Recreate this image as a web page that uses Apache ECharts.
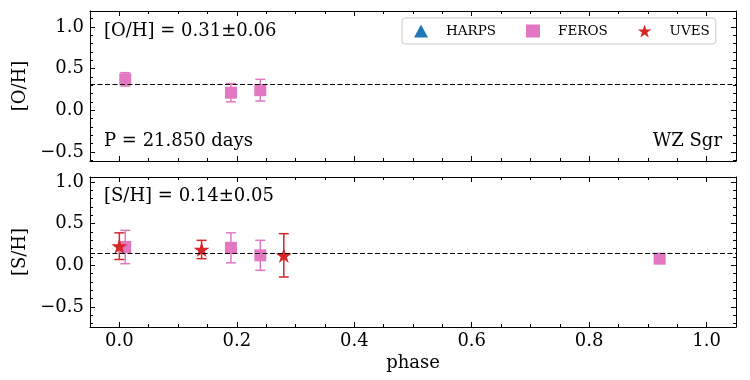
<!DOCTYPE html>
<html lang="en">
<head>
    <meta charset="UTF-8">
    <title>WZ Sgr abundances</title>
    <script src="https://cdn.jsdelivr.net/npm/echarts@6/dist/echarts.min.js"></script>
    <style>
        html, body { margin: 0; padding: 0; background: #fff; }
        #chart { width: 750px; height: 380px; }
    </style>
</head>
<body>
<div id="chart"></div>
<script>
    // --- data ---
    var ohFerosPhase = [0.01, 0.19, 0.24];
    var ohFerosVal   = [0.37, 0.21, 0.24];
    var ohFerosErr   = [0.08, 0.11, 0.13];

    var shFerosPhase = [0.01, 0.19, 0.24, 0.92];
    var shFerosVal   = [0.22, 0.21, 0.12, 0.08];
    var shFerosErr   = [0.20, 0.18, 0.18, 0.04];

    var shUvesPhase = [0.00, 0.14, 0.28];
    var shUvesVal   = [0.23, 0.19, 0.12];
    var shUvesErr   = [0.16, 0.11, 0.26];

    var meanOH = 0.31;
    var meanSH = 0.14;

    // ticks
    var xMajor = [0, 0.2, 0.4, 0.6, 0.8, 1.0];
    var xMinor = [-0.05, 0.05, 0.1, 0.15, 0.25, 0.3, 0.35, 0.45, 0.5, 0.55, 0.65, 0.7, 0.75, 0.85, 0.9, 0.95, 1.05];
    var yMajor = [-0.5, 0, 0.5, 1.0];
    var yMinorTop = [-0.6, -0.4, -0.3, -0.2, -0.1, 0.1, 0.2, 0.3, 0.4, 0.6, 0.7, 0.8, 0.9, 1.1];
    var yMinorBot = [-0.7, -0.6, -0.4, -0.3, -0.2, -0.1, 0.1, 0.2, 0.3, 0.4, 0.6, 0.7, 0.8, 0.9];

    var FONT = 'DejaVu Serif';
    var C_HARPS = '#1f77b4', C_FEROS = '#e377c2', C_UVES = '#d62728';
    var STAR = 'path://M0,-100L22.45,-30.9L95.11,-30.9L36.33,11.8L58.78,80.9L0,38.2L-58.78,80.9L-36.33,11.8L-95.11,-30.9L-22.45,-30.9Z';

    function pts(xs, ys) {
        return xs.map(function (x, i) { return [x, ys[i]]; });
    }
    function bars(xs, ys, es) {
        return xs.map(function (x, i) { return [x, ys[i] - es[i], ys[i] + es[i]]; });
    }
    function fmt(v) {
        return v.toFixed(1).replace('-', '\u2212');
    }

    function renderErr(params, api) {
        var x = api.value(0);
        var lo = api.coord([x, api.value(1)]);
        var hi = api.coord([x, api.value(2)]);
        var c = 5;
        var st = { stroke: api.visual('color'), lineWidth: 1.5 };
        return {
            type: 'group',
            children: [
                { type: 'line', shape: { x1: lo[0], y1: lo[1], x2: hi[0], y2: hi[1] }, style: st },
                { type: 'line', shape: { x1: lo[0] - c, y1: lo[1], x2: lo[0] + c, y2: lo[1] }, style: st },
                { type: 'line', shape: { x1: hi[0] - c, y1: hi[1], x2: hi[0] + c, y2: hi[1] }, style: st }
            ]
        };
    }

    var LINE = { show: true, onZero: false, lineStyle: { color: '#000', width: 1 } };
    var NOLINE = { show: false, onZero: false };

    // one set of 4 x axes (bottom/top, major/minor) per grid
    function xAxes(grid, labels) {
        var base = { gridIndex: grid, type: 'value', min: -0.05, max: 1.05, splitLine: { show: false } };
        return [
            Object.assign({}, base, {
                position: 'bottom', axisLine: LINE,
                axisTick: { show: true, inside: true, length: 5, customValues: xMajor, lineStyle: { color: '#000' } },
                axisLabel: { show: labels, customValues: xMajor, formatter: fmt, margin: 5,
                    fontFamily: FONT, fontSize: 18, color: '#000' },
                name: labels ? 'phase' : '', nameLocation: 'middle', nameGap: 27,
                nameTextStyle: { fontFamily: FONT, fontSize: 18, color: '#000' }
            }),
            Object.assign({}, base, {
                position: 'bottom', axisLine: NOLINE,
                axisTick: { show: true, inside: true, length: 3, customValues: xMinor, lineStyle: { color: '#000' } },
                axisLabel: { show: false }
            }),
            Object.assign({}, base, {
                position: 'top', axisLine: LINE,
                axisTick: { show: true, inside: true, length: 5, customValues: xMajor, lineStyle: { color: '#000' } },
                axisLabel: { show: false }
            }),
            Object.assign({}, base, {
                position: 'top', axisLine: NOLINE,
                axisTick: { show: true, inside: true, length: 3, customValues: xMinor, lineStyle: { color: '#000' } },
                axisLabel: { show: false }
            })
        ];
    }

    function yAxes(grid, min, max, minor, name) {
        var base = { gridIndex: grid, type: 'value', min: min, max: max, splitLine: { show: false } };
        return [
            Object.assign({}, base, {
                position: 'left', axisLine: LINE,
                axisTick: { show: true, inside: true, length: 5, customValues: yMajor, lineStyle: { color: '#000' } },
                axisLabel: { show: true, customValues: yMajor, formatter: fmt, margin: 6,
                    fontFamily: FONT, fontSize: 18, color: '#000' },
                name: name, nameLocation: 'middle', nameGap: 58,
                nameTextStyle: { fontFamily: FONT, fontSize: 18, color: '#000' }
            }),
            Object.assign({}, base, {
                position: 'left', axisLine: NOLINE,
                axisTick: { show: true, inside: true, length: 3, customValues: minor, lineStyle: { color: '#000' } },
                axisLabel: { show: false }
            }),
            Object.assign({}, base, {
                position: 'right', axisLine: LINE,
                axisTick: { show: true, inside: true, length: 5, customValues: yMajor, lineStyle: { color: '#000' } },
                axisLabel: { show: false }
            }),
            Object.assign({}, base, {
                position: 'right', axisLine: NOLINE,
                axisTick: { show: true, inside: true, length: 3, customValues: minor, lineStyle: { color: '#000' } },
                axisLabel: { show: false }
            })
        ];
    }

    function meanLine(v) {
        return {
            silent: true, symbol: 'none', label: { show: false },
            lineStyle: { color: '#000', width: 1, type: [5, 2.5] },
            data: [{ yAxis: v }]
        };
    }

    var option = {
        animation: false,
        backgroundColor: '#fff',
        grid: [
            { left: 90, top: 11, width: 646, height: 150 },
            { left: 90, top: 177, width: 646, height: 150 }
        ],
        xAxis: xAxes(0, false).concat(xAxes(1, true)),
        yAxis: yAxes(0, -0.61, 1.19, yMinorTop, '[O/H]').concat(yAxes(1, -0.74, 1.06, yMinorBot, '[S/H]')),
        legend: {
            left: 402, top: 18,
            padding: [6, 6, 6, 12],
            itemWidth: 14, itemHeight: 13, itemGap: 30,
            backgroundColor: 'rgba(255,255,255,0.8)',
            borderColor: '#cccccc', borderWidth: 1, borderRadius: 3,
            selectedMode: false,
            textStyle: { fontFamily: FONT, fontSize: 13.5, color: '#000', padding: [0, 0, 0, 13] },
            data: [
                { name: 'HARPS', icon: 'triangle', itemStyle: { color: C_HARPS, opacity: 1 } },
                { name: 'FEROS', icon: 'rect', itemStyle: { color: C_FEROS, opacity: 1 } },
                { name: 'UVES', icon: STAR, itemStyle: { color: C_UVES, opacity: 1 } }
            ]
        },
        graphic: [
            { type: 'text', x: 104, y: 31, style: { text: '[O/H] = 0.31\u00b10.06', font: '18px "DejaVu Serif"', fill: '#000', verticalAlign: 'middle' } },
            { type: 'text', x: 104, y: 141, style: { text: 'P = 21.850 days', font: '18px "DejaVu Serif"', fill: '#000', verticalAlign: 'middle' } },
            { type: 'text', x: 722, y: 141, style: { text: 'WZ Sgr', font: '18px "DejaVu Serif"', fill: '#000', align: 'right', verticalAlign: 'middle' } },
            { type: 'text', x: 104, y: 196, style: { text: '[S/H] = 0.14\u00b10.05', font: '18px "DejaVu Serif"', fill: '#000', verticalAlign: 'middle' } }
        ],
        series: [
            // legend-only series (no HARPS points in this star)
            { name: 'HARPS', type: 'scatter', xAxisIndex: 0, yAxisIndex: 0, symbol: 'triangle', itemStyle: { color: C_HARPS, opacity: 1 }, data: [] },

            // top panel: [O/H]
            { name: 'FEROS_err_oh', type: 'custom', xAxisIndex: 0, yAxisIndex: 0, renderItem: renderErr,
              itemStyle: { color: C_FEROS }, data: bars(ohFerosPhase, ohFerosVal, ohFerosErr), silent: true },
            { name: 'FEROS', type: 'scatter', xAxisIndex: 0, yAxisIndex: 0, symbol: 'rect', symbolSize: 12,
              itemStyle: { color: C_FEROS, opacity: 1 }, data: pts(ohFerosPhase, ohFerosVal), markLine: meanLine(meanOH) },

            // bottom panel: [S/H]
            { name: 'FEROS_err_sh', type: 'custom', xAxisIndex: 4, yAxisIndex: 4, renderItem: renderErr,
              itemStyle: { color: C_FEROS }, data: bars(shFerosPhase, shFerosVal, shFerosErr), silent: true },
            { name: 'FEROS', type: 'scatter', xAxisIndex: 4, yAxisIndex: 4, symbol: 'rect', symbolSize: 12,
              itemStyle: { color: C_FEROS, opacity: 1 }, data: pts(shFerosPhase, shFerosVal), markLine: meanLine(meanSH) },
            { name: 'UVES_err_sh', type: 'custom', xAxisIndex: 4, yAxisIndex: 4, renderItem: renderErr,
              itemStyle: { color: C_UVES }, data: bars(shUvesPhase, shUvesVal, shUvesErr), silent: true },
            { name: 'UVES', type: 'scatter', xAxisIndex: 4, yAxisIndex: 4, symbol: STAR, symbolSize: 16, symbolKeepAspect: true,
              itemStyle: { color: C_UVES, opacity: 1 }, data: pts(shUvesPhase, shUvesVal) }
        ]
    };

    var myChart = echarts.init(document.getElementById('chart'));
    myChart.setOption(option);
</script>
</body>
</html>
